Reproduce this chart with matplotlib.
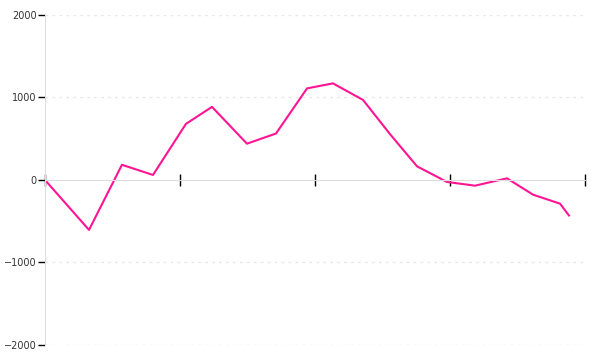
import matplotlib
matplotlib.use("Agg")
import matplotlib.pyplot as plt

# series values
x_vals = [0, 32.6, 57, 80, 104.4, 123.7, 149.6, 171.1, 194.1, 213.3,
          235.6, 255.6, 275.6, 297.8, 318.5, 342.2, 361.5, 381.5, 388.1]
y_vals = [0, -605, 184, 61, 680, 886, 440, 563, 1110, 1171,
          970, 555, 165, -24, -69, 20, -178, -287, -430]
x_ticks = [0, 100, 200, 300, 400]
y_ticks = [-2000, -1000, 0, 1000, 2000]

fig = plt.figure(figsize=(6, 3.6), dpi=100)
ax = fig.add_axes([0.075, 0.0417, 0.9, 0.9167])

ax.plot(x_vals, y_vals, color='#ff1493', linewidth=1.5)

ax.set_xlim(x_ticks[0], x_ticks[-1])
ax.set_ylim(y_ticks[0], y_ticks[-1])
ax.set_xticks(x_ticks)
ax.set_yticks(y_ticks)
ax.set_xticklabels([])
ax.set_yticklabels([str(v).replace('-', '\u2212') for v in y_ticks])

# dashed horizontal grid
for v in y_ticks:
    if v != 0:
        ax.axhline(v, color='#e8e8e8', linewidth=1, linestyle=(0, (2, 3)), zorder=0)

for side in ['top', 'right']:
    ax.spines[side].set_visible(False)
ax.spines['left'].set_color('#dddddd')
ax.spines['bottom'].set_color('#dddddd')
ax.spines['bottom'].set_position(('data', 0))

ax.tick_params(axis='y', direction='out', length=5, width=1, color='black',
               labelsize=7, labelcolor='#333333', pad=1)
ax.tick_params(axis='x', direction='inout', length=9, width=1, color='black')

fig.savefig('out.png', dpi=100)
